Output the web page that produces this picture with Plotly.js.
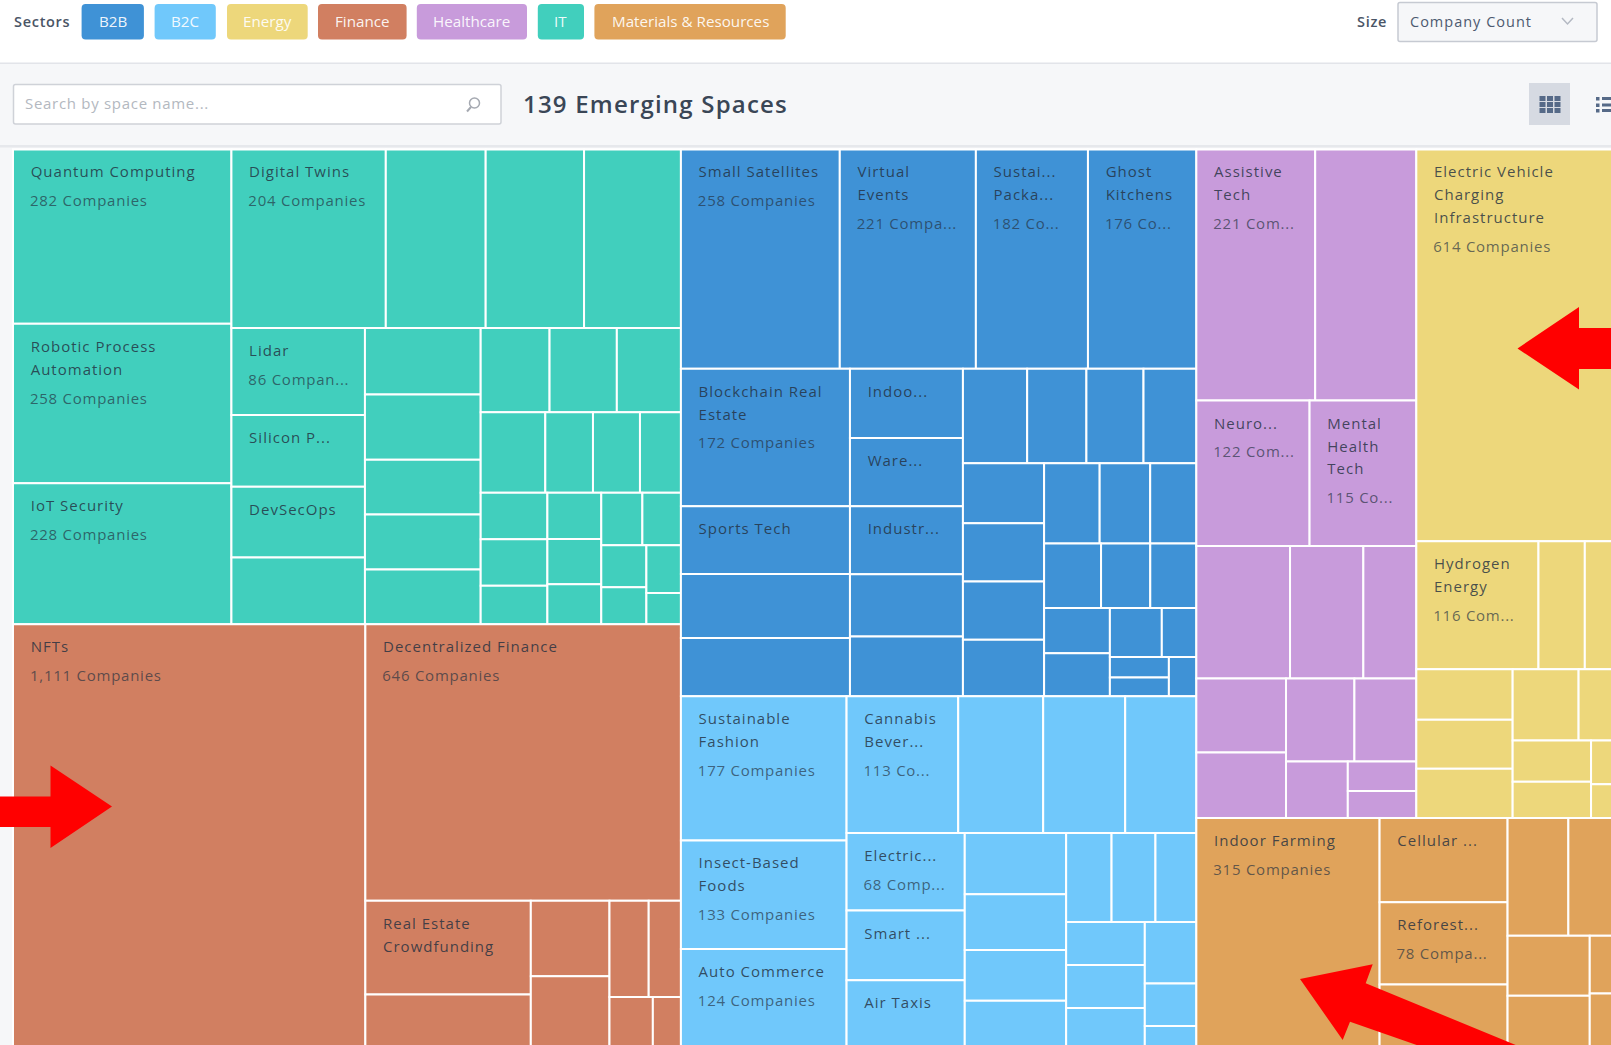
<!DOCTYPE html>
<html>
<head>
<meta charset="utf-8">
<script src="https://cdn.plot.ly/plotly-3.0.1.min.js"></script>
<style>
html,body{margin:0;padding:0;overflow:hidden;width:1611px;height:1045px;background:#fff}
#chart{position:absolute;left:0;top:0;width:1628px;height:1050px}
</style>
</head>
<body>
<div id="chart"></div>
<script>
// Sector names and colours
var sectorNames = ["B2B","B2C","Energy","Finance","Healthcare","IT","Materials & Resources"];
var sectorColors = ["#3f92d6","#70c8fb","#edd77b","#d17f61","#c89bdb","#41cfbd","#e0a35b"];

// Company counts per space (read from labels, otherwise estimated from tile area)
var itValues = [282,258,228,204,132,130,128,86,71,70,66,57,56,47,47,47,43,42,40,38.5,28.4,28,24.4,23,23,19,18.5,18,16,16,15,14,12.4,12.2,8];
var itNames  = ["Quantum Computing","Robotic Process|Automation","IoT Security","Digital Twins","","","","Lidar","Silicon P...","DevSecOps"];
var itCounts = ["282 Companies","258 Companies","228 Companies","204 Companies","","","","86 Compan..."];

var financeValues = [1111,646,115,68,44,43,28,23,17,11];
var financeNames  = ["NFTs","Decentralized Finance","Real Estate|Crowdfunding"];
var financeCounts = ["1,111 Companies","646 Companies"];

var b2bValues = [258,221,182,176,172,85,80,73,58,57,57,52,50,45,41.5,40,37,36,35,35,34,33,30,27.4,27.2,23.5,22,22,21,18.8,12.5,9,8.2,8];
var b2bNames  = ["Small Satellites","Virtual|Events","Sustai...|Packa...","Ghost|Kitchens","Blockchain Real|Estate","Sports Tech","","","Indoo...","Ware...","Industr..."];
var b2bCounts = ["258 Companies","221 Compa...","182 Co...","176 Co...","172 Companies"];

var b2cValues = [177,133,124,113,86,83,72,68,61,61,46,42,38,37,30,29,27,25,25,24.5,23.4,16.2,9.2];
var b2cNames  = ["Sustainable|Fashion","Insect-Based|Foods","Auto Commerce","Cannabis|Bever...","","","","Electric...","Smart ...","Air Taxis"];
var b2cCounts = ["177 Companies","133 Companies","124 Companies","113 Co...","","","","68 Comp..."];

var healthValues = [221,188,122,115,92,72,52,49,43.5,42,38,25.8,15,13.6];
var healthNames  = ["Assistive|Tech","","Neuro...","Mental|Health|Tech"];
var healthCounts = ["221 Com...","","122 Com...","115 Co..."];

var energyValues = [614,116,44,41,36,35,35,34.7,26,24,21,12,9.2];
var energyNames  = ["Electric Vehicle|Charging|Infrastructure","Hydrogen|Energy"];
var energyCounts = ["614 Companies","116 Com..."];

var materialsValues = [315,80,78,62,53,52,36.6,33,16.4,16];
var materialsNames  = ["Indoor Farming","Cellular ...","Reforest..."];
var materialsCounts = ["315 Companies","","78 Compa..."];

var W = 1628, H = 1050;
var BLANK = "\u00A0";
var TITLE_CSS = "font-size:15px;letter-spacing:1px;color:rgba(36,48,64,0.82)";
var COUNT_CSS = "font-size:15px;letter-spacing:0.75px;color:rgba(36,48,64,0.68)";
var INDENT = "\u00A0\u00A0\u00A0";

function blanks(n){ var s=""; for(var i=0;i<n;i++) s+=BLANK+"<br>"; return s; }
function tileText(name,count){
  if(!name && !count) return "";
  var out = blanks(8);
  var lines = name.split("|");
  lines.forEach(function(l,i){
    out += "<span style='"+TITLE_CSS+"'>"+INDENT+l+"</span>";
    if(i<lines.length-1) out += "<br>"+blanks(7);
  });
  if(count) out += "<br>"+blanks(9)+"<span style='"+COUNT_CSS+"'>"+INDENT+count+"</span>";
  return out;
}

var ids=[],labels=[],parents=[],values=[],colors=[],texts=[];
var groups = [
  [0,b2bValues,b2bNames,b2bCounts],
  [1,b2cValues,b2cNames,b2cCounts],
  [2,energyValues,energyNames,energyCounts],
  [3,financeValues,financeNames,financeCounts],
  [4,healthValues,healthNames,healthCounts],
  [5,itValues,itNames,itCounts],
  [6,materialsValues,materialsNames,materialsCounts]
];
groups.forEach(function(g){
  var sec = sectorNames[g[0]], col = sectorColors[g[0]];
  ids.push(sec);labels.push(sec);parents.push("");values.push(0);colors.push(col);texts.push("");
  g[1].forEach(function(v,i){
    var id = sec+"-"+i;
    ids.push(id);labels.push((g[2][i]||"Space "+(i+1)).replace(/\|/g," "));parents.push(sec);values.push(v);colors.push(col);
    texts.push(tileText(g[2][i]||"",g[3][i]||""));
  });
});

var trace = {
  type:"treemap",ids:ids,labels:labels,parents:parents,values:values,text:texts,
  branchvalues:"remainder",sort:true,textinfo:"text",textposition:"top left",
  textfont:{family:"Open Sans",size:2.21,color:"#243040"},
  domain:{x:[13/W,1],y:[0,900.5/H]},
  tiling:{packing:"squarify",squarifyratio:1.618,pad:0},
  marker:{colors:colors,line:{color:"#ffffff",width:2},pad:{t:0,l:0,r:0,b:0},depthfade:false},
  root:{color:"#ffffff"},leaf:{opacity:1},pathbar:{visible:false},hoverinfo:"label+value"
};

function px(x){return x/W;} function py(y){return 1-y/H;}
function rect(x0,y0,x1,y1,fill,line,layer){
  return {type:"rect",xref:"paper",yref:"paper",x0:px(x0),x1:px(x1),y0:py(y0),y1:py(y1),
    fillcolor:fill,line:line?{color:line,width:1.5}:{width:0},layer:layer||"above"};
}
function poly(pts,fill){
  var d=pts.map(function(p,i){return (i?"L":"M")+px(p[0])+","+py(p[1]);}).join(" ")+" Z";
  return {type:"path",xref:"paper",yref:"paper",path:d,fillcolor:fill,line:{width:0},layer:"above"};
}
function rrect(x0,y0,x1,y1,r,fill,line){
  var xr=r/W,yr=r/H,a=px(x0),b=px(x1),t=py(y0),u=py(y1);
  var d="M"+(a+xr)+","+t+" L"+(b-xr)+","+t+" Q"+b+","+t+" "+b+","+(t-yr)+" L"+b+","+(u+yr)+" Q"+b+","+u+" "+(b-xr)+","+u+
    " L"+(a+xr)+","+u+" Q"+a+","+u+" "+a+","+(u+yr)+" L"+a+","+(t-yr)+" Q"+a+","+t+" "+(a+xr)+","+t+" Z";
  return {type:"path",xref:"paper",yref:"paper",path:d,fillcolor:fill,line:line?{color:line,width:1.5}:{width:0},layer:"above"};
}
function note(x,y,text,size,color,anchor){
  return {xref:"paper",yref:"paper",x:px(x),y:py(y),text:text,showarrow:false,xanchor:anchor||"left",yanchor:"middle",
    font:{family:"Open Sans",size:size,color:color},align:"left",borderpad:0};
}

var buttonLabels = ["B2B","B2C","Energy","Finance","Healthcare","IT","Materials & Resources"];
var buttonEdges = [[81.6,143.9],[154.6,215.8],[227,307.7],[318,406.6],[416.8,527],[537.8,584],[594.4,785.7]];

var shapes = [
  rect(0,63,W,H,"#f6f7f9",null,"below"),
  rect(0,62.5,W,64,"#e2e4e9",null,"below"),
  rect(0,145,W,147.5,"#e6e8ec",null,"below"),
  rrect(13.5,84.5,501,124,2,"#ffffff","#cfd2d8"),
  rrect(1398,2.5,1597,41.5,2,"#f6f7f9","#c6cad2"),
  rect(1529,83,1570,125,"#d6dae2",null),
  {type:"path",xref:"paper",yref:"paper",path:"M"+px(1562)+","+py(18)+" L"+px(1567.5)+","+py(24)+" L"+px(1573)+","+py(18),line:{color:"#b4b9c3",width:1.5},layer:"above"},
  {type:"circle",xref:"paper",yref:"paper",x0:px(469.5),x1:px(479.5),y0:py(98),y1:py(108),line:{color:"#a5a9b1",width:1.5},fillcolor:"rgba(0,0,0,0)",layer:"above"},
  {type:"line",xref:"paper",yref:"paper",x0:px(471),x1:px(467),y0:py(107),y1:py(111.5),line:{color:"#a5a9b1",width:2},layer:"above"}
];
buttonEdges.forEach(function(e,i){ shapes.push(rrect(e[0],4,e[1],39.5,4,sectorColors[i],null)); });
// grid view icon
[1539.5,1547,1554.5].forEach(function(x){ [96,102,108].forEach(function(y){ shapes.push(rect(x,y,x+6,y+5,"#566a88",null)); }); });
// list view icon
[97,103.5,109].forEach(function(y){
  shapes.push(rect(1596,y,1599.5,y+3.5,"#566a88",null));
  shapes.push(rect(1602,y,1612,y+3,"#566a88",null));
});
// red arrows
shapes.push(poly([[0,796.5],[50.5,796.5],[50.5,765.5],[112,806.5],[50.5,848],[50.5,827],[0,827]],"#ff0000"));
shapes.push(poly([[1517.5,348.5],[1579,307],[1579,328],[1628,328],[1628,369],[1579,369],[1579,389.5]],"#ff0000"));
shapes.push(poly([[1300,979],[1372.7,964.3],[1365.7,983.3],[1528,1050],[1431,1050],[1350,1021.7],[1342.7,1040]],"#ff0000"));

var annotations = [
  note(13,21,"<span style='letter-spacing:0.7px;font-weight:600'>Sectors</span>",14.5,"#4a5566"),
  note(1372,21,"<span style='letter-spacing:0.7px;font-weight:600'>Size</span>",14.5,"#4a5566","center"),
  note(1409,21,"<span style='letter-spacing:1px'>Company Count</span>",14.5,"#4d5a70"),
  note(24,103,"<span style='letter-spacing:0.7px'>Search by space name...</span>",15,"#b3b8c0"),
  note(522,103,"<span style='letter-spacing:1.2px;font-weight:600'>139 Emerging Spaces</span>",24,"#3a4656")
];
buttonLabels.forEach(function(t,i){
  var e=buttonEdges[i];
  annotations.push(note((e[0]+e[1])/2,21,t,15.2,"rgba(255,255,255,0.92)","center"));
});

Plotly.newPlot("chart",[trace],{
  width:W,height:H,autosize:false,margin:{l:0,r:0,t:0,b:0,pad:0},
  paper_bgcolor:"#ffffff",showlegend:false,shapes:shapes,annotations:annotations,
  font:{family:"Open Sans"}
},{displayModeBar:false,responsive:false});
</script>
</body>
</html>
